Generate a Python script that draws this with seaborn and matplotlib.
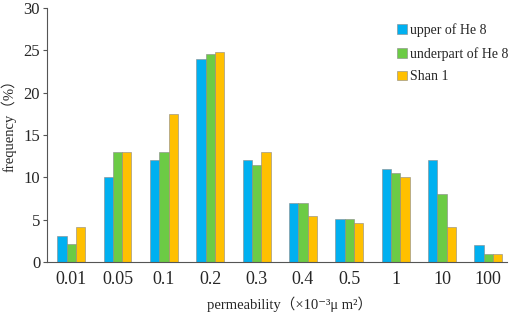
import pandas as pd
import seaborn as sns
import matplotlib.pyplot as plt

sns.set_style("white")
plt.rcParams['font.family'] = ['Liberation Serif', 'Noto Sans CJK SC', 'DejaVu Sans']

permeability = ["0.01", "0.05", "0.1", "0.2", "0.3", "0.4", "0.5", "1", "10", "100"]
upper_he8 = [3.1, 10.1, 12.0, 24.0, 12.0, 7.0, 5.1, 11.0, 12.0, 2.0]
under_he8 = [2.1, 13.0, 13.0, 24.6, 11.5, 7.0, 5.1, 10.5, 8.0, 1.0]
shan1 = [4.1, 13.0, 17.5, 24.8, 13.0, 5.5, 4.6, 10.0, 4.1, 1.0]
series = ["upper of He 8", "underpart of He 8", "Shan 1"]
colors = ["#00B0F0", "#6CCB45", "#FFC000"]

df = pd.DataFrame({
    "perm": permeability * 3,
    "freq": upper_he8 + under_he8 + shan1,
    "layer": [s for s in series for _ in permeability],
})

fig, ax = plt.subplots(figsize=(5.12, 3.12), dpi=100)
fig.subplots_adjust(left=0.092, right=0.99, bottom=0.16, top=0.974)

sns.barplot(data=df, x="perm", y="freq", hue="layer", palette=colors,
            width=0.6, saturation=1, ax=ax, edgecolor="#888888", linewidth=0.4)

ax.set_ylim(0, 30)
ax.set_xlim(-0.52, 9.4)
ax.set_yticks([0, 5, 10, 15, 20, 25, 30])
sns.despine(ax=ax)
for s in ["left", "bottom"]:
    ax.spines[s].set_color("#555555")
    ax.spines[s].set_linewidth(0.8)
ax.tick_params(axis="y", left=True, length=3, width=0.8, color="#555555", labelsize=12, pad=2)
ax.tick_params(axis="x", bottom=False, labelsize=13, pad=3)

ax.set_ylabel("frequency（%）", fontsize=10.5, labelpad=1)
ax.yaxis.set_label_coords(-0.066, 0.55)
ax.set_xlabel("permeability（×10⁻³μ m²）", fontsize=10.5, labelpad=1)
ax.xaxis.set_label_coords(0.528, -0.135)

ax.legend(loc="upper left", bbox_to_anchor=(0.749, 0.962), frameon=False, fontsize=10,
          handlelength=0.7, handleheight=0.7, handletextpad=0.2, labelspacing=0.7,
          borderaxespad=0)

fig.savefig("out.png", dpi=100)
